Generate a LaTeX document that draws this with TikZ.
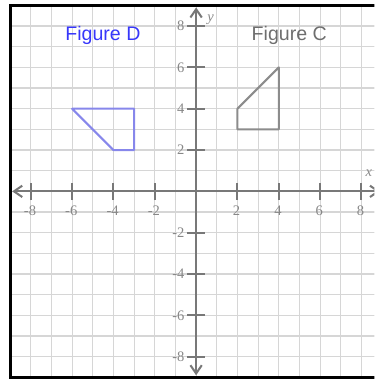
\documentclass[tikz,border=0pt]{standalone}
\usepackage{fontspec}
\setmainfont{Liberation Serif}
\newfontfamily\labelsans{Liberation Sans}
\usetikzlibrary{arrows.meta}
\definecolor{gridgray}{RGB}{214,214,214}
\definecolor{axisgray}{RGB}{120,120,120}
\definecolor{numgray}{RGB}{135,135,135}
\definecolor{figDcol}{RGB}{135,135,235}
\definecolor{figCcol}{RGB}{140,140,140}
\definecolor{textblue}{RGB}{55,55,250}
\definecolor{textgray}{RGB}{110,110,110}
\begin{document}
\begin{tikzpicture}[
  gridline/.style={gridgray, line width=1.6pt},
  axisline/.style={axisgray, line width=2.8pt},
  barb/.tip={Straight Barb[length=0.4cm,width=0.55cm]},
  tickline/.style={axisgray, line width=2.8pt},
  numlabel/.style={numgray, font=\fontsize{20}{20}\selectfont, inner sep=0pt},
  axlabel/.style={numgray, font=\fontsize{20}{20}\selectfont\itshape, inner sep=0pt},
  figlabel/.style={font=\labelsans\fontsize{27}{27}\selectfont, inner sep=0pt},
  shapeD/.style={figDcol, line width=2.8pt, line join=round},
  shapeC/.style={figCcol, line width=2.8pt, line join=round},
  frame/.style={black, line width=4pt}
]
\useasboundingbox (-9.49,-9.08) rectangle (8.62,9.26);
\clip (-9.49,-9.08) rectangle (8.62,9.26);
% grid
\draw[gridline] (-9,-9) grid (9,9);
% axes
\coordinate (xl) at (-8.9,0);
\coordinate (xr) at (8.9,0);
\coordinate (yb) at (0,-8.9);
\coordinate (yt) at (0,8.9);
\draw[axisline, barb-barb] (xl) -- (xr);
\draw[axisline, barb-barb] (yb) -- (yt);
% ticks and labels
\foreach \k in {-8,-6,-4,-2,2,4,6,8}{
  \draw[tickline] (\k,-0.42) -- (\k,0.42);
  \draw[tickline] (-0.42,\k) -- (0.42,\k);
  \node[numlabel, anchor=center] (xn\k) at (\k-0.04,-0.94) {\k};
  \node[numlabel, anchor=east] (yn\k) at (-0.56,\k) {\k};
}
\node[axlabel] (ylab) at (0.7,8.29) {y};
\node[axlabel] (xlab) at (8.36,0.88) {x};
% figures
\draw[shapeD] (-6,4) -- (-3,4) -- (-3,2) -- (-4,2) -- cycle;
\draw[shapeC] (2,4) -- (2,3) -- (4,3) -- (4,6) -- cycle;
\node[figlabel, textblue] (labD) at (-4.51,7.56) {Figure D};
\node[figlabel, textgray] (labC) at (4.51,7.56) {Figure C};
% frame
\draw[frame] (-9,-9) rectangle (9,9);
\end{tikzpicture}
\end{document}
